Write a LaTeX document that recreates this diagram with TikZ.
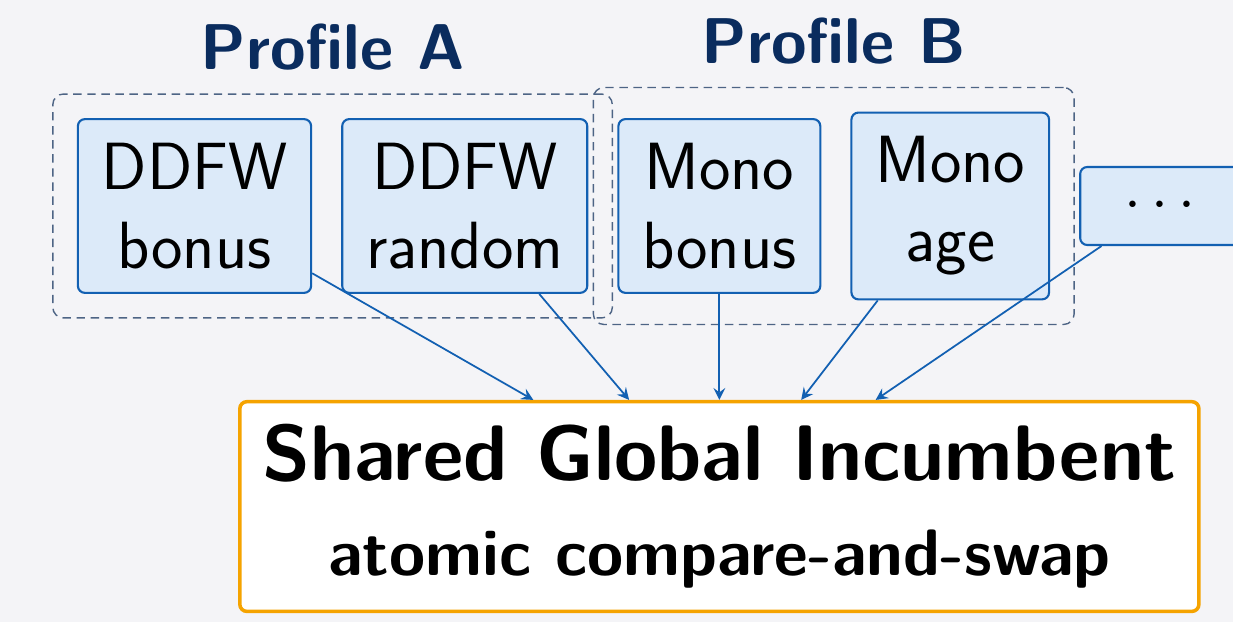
\documentclass[tikz,border=0pt]{standalone}
\usepackage{tikz}
\usetikzlibrary{positioning}
\usetikzlibrary{fit}
\usepackage{xcolor}

\definecolor{heurblue}{RGB}{18,96,178}
\definecolor{heurfill}{RGB}{220,234,249}
\definecolor{titlenavy}{RGB}{10,44,94}
\definecolor{grpgray}{RGB}{77,100,133}
\definecolor{incorange}{RGB}{245,163,0}
\definecolor{bgpaper}{RGB}{244,244,247}

\tikzset{
    heur/.style={draw=heurblue, fill=heurfill, line width=0.6pt, rounded corners=2pt, align=center, inner sep=6.8pt, font=\sffamily\fontsize{19}{22.5}\selectfont},
    grp/.style={draw=grpgray, line width=0.4pt, dash pattern=on 2.4pt off 1.6pt, rounded corners=3pt, inner sep=0.24cm},
    grplabel/.style={font=\sffamily\bfseries\fontsize{18.4}{22}\selectfont, text=titlenavy, label distance=3pt},
    incumb/.style={draw=incorange, fill=white, line width=1pt, rounded corners=2pt, align=center, inner sep=6.5pt, font=\sffamily\bfseries\fontsize{22.4}{27}\selectfont},
    feed/.style={->, >=stealth, draw=heurblue, line width=0.5pt}
}

\begin{document}
\begin{tikzpicture}
    \fill[bgpaper] (0, 0) rectangle (12.33, -6.22);
    \useasboundingbox (0, 0) rectangle (12.33, -6.22);
    % heuristics
    \node[heur] (ddfwb) at (1.945, -2.06) {DDFW\\bonus};
    \node[heur, right=0.29cm of ddfwb] (ddfwr) {DDFW\\random};
    \node[heur, right=0.29cm of ddfwr] (monob) {Mono\\bonus};
    \node[heur, right=0.29cm of monob] (monoa) {Mono\\age};
    \node[heur, right=0.29cm of monoa, minimum width=1.6cm, minimum height=0.78cm] (more) {$\cdots$};
    % profiles
    \node[grp, fit=(ddfwb)(ddfwr), label={[grplabel]above:Profile A}] (profA) {};
    \node[grp, fit=(monob)(monoa), label={[grplabel]above:Profile B}] (profB) {};
    % incumbent
    \node[incumb, below=1.06cm of monob] (shared) {Shared Global Incumbent\\{\fontsize{18.7}{27}\selectfont atomic compare-and-swap}};
    \foreach \h in {ddfwb, ddfwr, monob, monoa, more}
        \draw[feed] (\h) -- (shared);
\end{tikzpicture}
\end{document}
